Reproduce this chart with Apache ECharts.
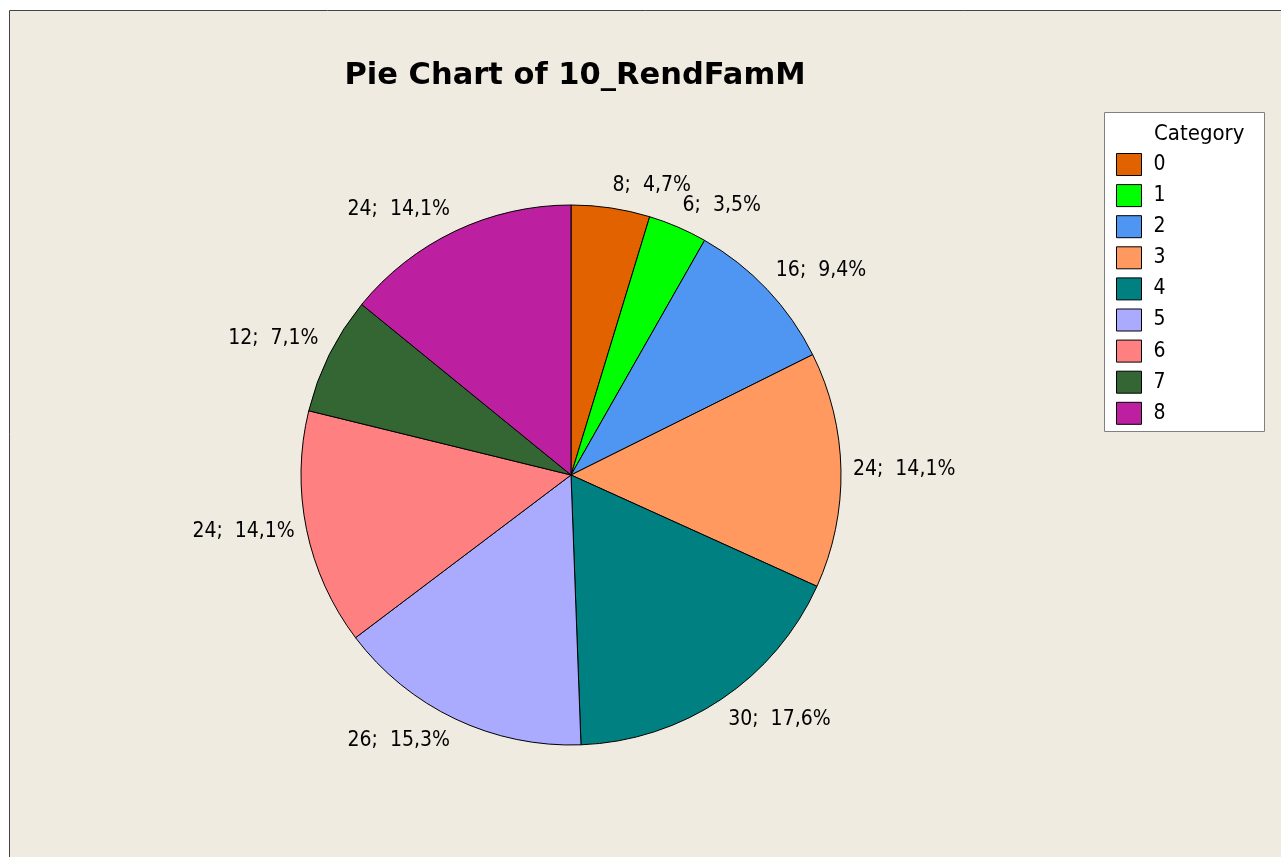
<!DOCTYPE html>
<html><head><meta charset="utf-8">
<script src="https://cdn.jsdelivr.net/npm/echarts@6/dist/echarts.min.js"></script>
<style>html,body{margin:0;padding:0;background:#fff}#c{width:1281px;height:857px}</style>
</head><body><div id="c"></div>
<script>
const categories = ['0','1','2','3','4','5','6','7','8'];
const counts = [8, 6, 16, 24, 30, 26, 24, 12, 24];
const colors = ['#E36200','#00FF00','#4F96F2','#FF9960','#008080','#AAAAFF','#FF8080','#336633','#BC1FA0'];
const total = counts.reduce((a,b)=>a+b,0);

const CX = 571, CY = 475, RAD = 270, LABEL_R = 282;
const FONT = '"DejaVu Sans Condensed", "Liberation Sans", sans-serif';

function labelPlacement(i) {
  let before = 0;
  for (let k = 0; k < i; k++) before += counts[k];
  const mid = (before + counts[i] / 2) / total * 2 * Math.PI;
  const s = Math.sin(mid), c = Math.cos(mid);
  return {
    x: CX + LABEL_R * s,
    y: CY - LABEL_R * c,
    align: s >= 0 ? 'left' : 'right',
    verticalAlign: Math.abs(c) < 0.3 ? 'middle' : (c > 0 ? 'bottom' : 'top')
  };
}

const chart = echarts.init(document.getElementById('c'));
chart.setOption({
  backgroundColor: '#fff',
  animation: false,
  title: {
    text: 'Pie Chart of 10_RendFamM', left: 570, top: 56, textAlign: 'center',
    textStyle: {fontFamily: 'DejaVu Sans', fontWeight: 'bold', fontSize: 30.5, color: '#000'}
  },
  graphic: [
    {type: 'rect', z: -10, left: 9, top: 10, shape: {width: 1300, height: 900}, style: {fill: '#F0EBE0', stroke: '#444', lineWidth: 1}},
    {type: 'rect', z: 0, left: 1104, top: 112, shape: {width: 160, height: 319}, style: {fill: '#fff', stroke: '#808080', lineWidth: 1}},
    {type: 'text', z: 1, style: {x: 1154, y: 134, verticalAlign: 'middle', text: 'Category', font: '22px ' + FONT, fill: '#000'}}
  ],
  legend: {
    orient: 'vertical', left: 1116, top: 153, padding: 0, itemWidth: 25, itemHeight: 22, itemGap: 8.1,
    icon: 'rect', data: categories,
    textStyle: {fontFamily: FONT, fontSize: 21, lineHeight: 22, color: '#000', padding: [0,0,0,7]},
    itemStyle: {borderColor: '#000', borderWidth: 1}
  },
  series: [{
    type: 'pie', center: [CX, CY], radius: RAD, startAngle: 90, clockwise: true,
    avoidLabelOverlap: false, silent: true,
    itemStyle: {borderColor: '#000', borderWidth: 1},
    label: {
      show: true, position: 'outside', color: '#000', fontFamily: FONT, fontSize: 21,
      formatter: p => p.value + ';  ' + (p.value / total * 100).toFixed(1).replace('.', ',') + '%'
    },
    labelLine: {show: false, length: 12, length2: 0},
    labelLayout: p => labelPlacement(p.dataIndex),
    data: categories.map((c, i) => ({name: c, value: counts[i], itemStyle: {color: colors[i]}}))
  }]
});
</script></body></html>
